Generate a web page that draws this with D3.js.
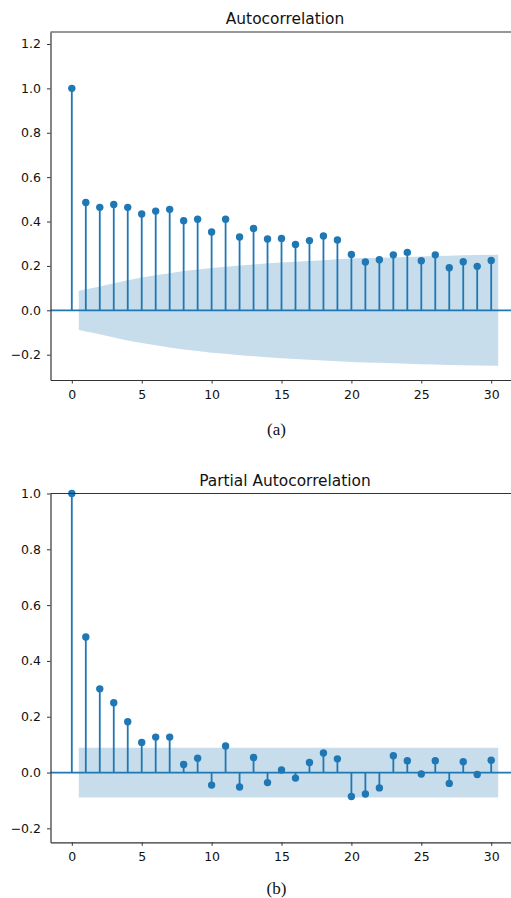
<!DOCTYPE html>
<html>
<head>
<meta charset="utf-8">
<script src="https://cdn.jsdelivr.net/npm/d3@7"></script>
<style>
html,body{margin:0;padding:0;background:#fff;}
svg{display:block;}
</style>
</head>
<body>
<script>
// ---- data ----
const lags = d3.range(0, 31);
const acfValues = [1.0, 0.486, 0.464, 0.477, 0.464, 0.434, 0.447, 0.455, 0.404, 0.410, 0.353,
  0.410, 0.330, 0.369, 0.321, 0.324, 0.297, 0.314, 0.335, 0.317, 0.252,
  0.218, 0.228, 0.250, 0.261, 0.223, 0.250, 0.192, 0.219, 0.198, 0.225];
// half-width of the ACF confidence band at lags 1..30
const acfBand = [0.0885, 0.1074, 0.1221, 0.1360, 0.1478, 0.1575, 0.1671, 0.1766, 0.1837, 0.1907,
  0.1958, 0.2024, 0.2066, 0.2117, 0.2155, 0.2192, 0.2224, 0.2258, 0.2297, 0.2331,
  0.2352, 0.2368, 0.2385, 0.2406, 0.2428, 0.2444, 0.2464, 0.2476, 0.2491, 0.2503];
const pacfValues = [1.0, 0.486, 0.300, 0.250, 0.182, 0.108, 0.127, 0.127, 0.029, 0.051, -0.045,
  0.095, -0.052, 0.054, -0.036, 0.009, -0.020, 0.036, 0.070, 0.049, -0.086,
  -0.077, -0.055, 0.060, 0.042, -0.005, 0.042, -0.039, 0.039, -0.007, 0.044];
// half-width of the PACF confidence band at lags 1..30
const pacfBand = [0.089, 0.089, 0.089, 0.089, 0.089, 0.089, 0.089, 0.089, 0.089, 0.089,
  0.089, 0.089, 0.089, 0.089, 0.089, 0.089, 0.089, 0.089, 0.089, 0.089,
  0.089, 0.089, 0.089, 0.089, 0.089, 0.089, 0.089, 0.089, 0.089, 0.089];
const xTicks = [0, 5, 10, 15, 20, 25, 30];
const acfYTicks = [-0.2, 0.0, 0.2, 0.4, 0.6, 0.8, 1.0, 1.2];
const pacfYTicks = [-0.2, 0.0, 0.2, 0.4, 0.6, 0.8, 1.0];
const titles = ["Autocorrelation", "Partial Autocorrelation"];
const captions = ["(a)", "(b)"];

// ---- drawing ----
const W = 511, H = 898;
const blue = "#1f77b4";
const svg = d3.select("body").append("svg").attr("width", W).attr("height", H);

function panel(cfg) {
  const x = d3.scaleLinear().domain([-1.525, 32.025]).range([50.5, 519.5]);
  const y = d3.scaleLinear().domain(cfg.yDomain).range([cfg.bottom, cfg.top]);
  const g = svg.append("g");

  // confidence band
  const bandX = lags.slice(1).map((l, i, a) => i === 0 ? l - 0.5 : (i === a.length - 1 ? l + 0.5 : l));
  const bandData = cfg.band.map((b, i) => ({x: bandX[i], b}));
  g.append("path").datum(bandData)
    .attr("d", d3.area().x(d => x(d.x)).y0(d => y(-d.b)).y1(d => y(d.b)))
    .attr("fill", blue).attr("fill-opacity", 0.25);

  // stems
  g.selectAll("line.stem").data(cfg.values).join("line").attr("class", "stem")
    .attr("x1", (d, i) => x(lags[i])).attr("x2", (d, i) => x(lags[i]))
    .attr("y1", y(0)).attr("y2", d => y(d))
    .attr("stroke", blue).attr("stroke-width", 1.8);

  // zero line
  g.append("line").attr("x1", x.range()[0]).attr("x2", x.range()[1])
    .attr("y1", y(0)).attr("y2", y(0)).attr("stroke", blue).attr("stroke-width", 1.8);

  // markers
  g.selectAll("circle").data(cfg.values).join("circle")
    .attr("cx", (d, i) => x(lags[i])).attr("cy", d => y(d)).attr("r", 3.7)
    .attr("fill", blue);

  // axes
  const fmt = d3.format(".1f");
  const ya = g.append("g").attr("transform", `translate(${x.range()[0]},0)`)
    .call(d3.axisLeft(y).tickValues(cfg.yTicks).tickFormat(fmt).tickSize(3.5).tickPadding(6).tickSizeOuter(0));
  const xa = g.append("g").attr("transform", `translate(0,${cfg.bottom})`)
    .call(d3.axisBottom(x).tickValues(xTicks).tickFormat(d3.format("d")).tickSize(3.5).tickPadding(6.5).tickSizeOuter(0));
  [ya, xa].forEach(a => {
    a.selectAll("path.domain").attr("stroke", "#333").attr("stroke-width", 1.2);
    a.selectAll(".tick line").attr("stroke", "#333").attr("stroke-width", 1);
    a.selectAll("text").attr("font-family", "DejaVu Sans").attr("font-size", 12.5).attr("fill", "#111");
  });
  // top spine
  g.append("line").attr("x1", x.range()[0]).attr("x2", x.range()[1])
    .attr("y1", cfg.top).attr("y2", cfg.top).attr("stroke", "#333").attr("stroke-width", 1.2);

  // title
  g.append("text").attr("x", (x.range()[0] + x.range()[1]) / 2).attr("y", cfg.top - 8)
    .attr("text-anchor", "middle").attr("font-family", "DejaVu Sans").attr("font-size", 15.4)
    .attr("fill", "#111").text(cfg.title);

  // caption
  g.append("text").attr("x", 276.5).attr("y", cfg.captionY)
    .attr("text-anchor", "middle").attr("font-family", "Liberation Serif").attr("font-size", 17)
    .attr("fill", "#111").text(cfg.caption);
}

panel({values: acfValues, band: acfBand, yDomain: [-0.314, 1.254], yTicks: acfYTicks,
  top: 32, bottom: 380, title: titles[0], caption: captions[0], captionY: 435});
panel({values: pacfValues, band: pacfBand, yDomain: [-0.25, 1.0], yTicks: pacfYTicks,
  top: 493.5, bottom: 842.3, title: titles[1], caption: captions[1], captionY: 894});
</script>
</body>
</html>
